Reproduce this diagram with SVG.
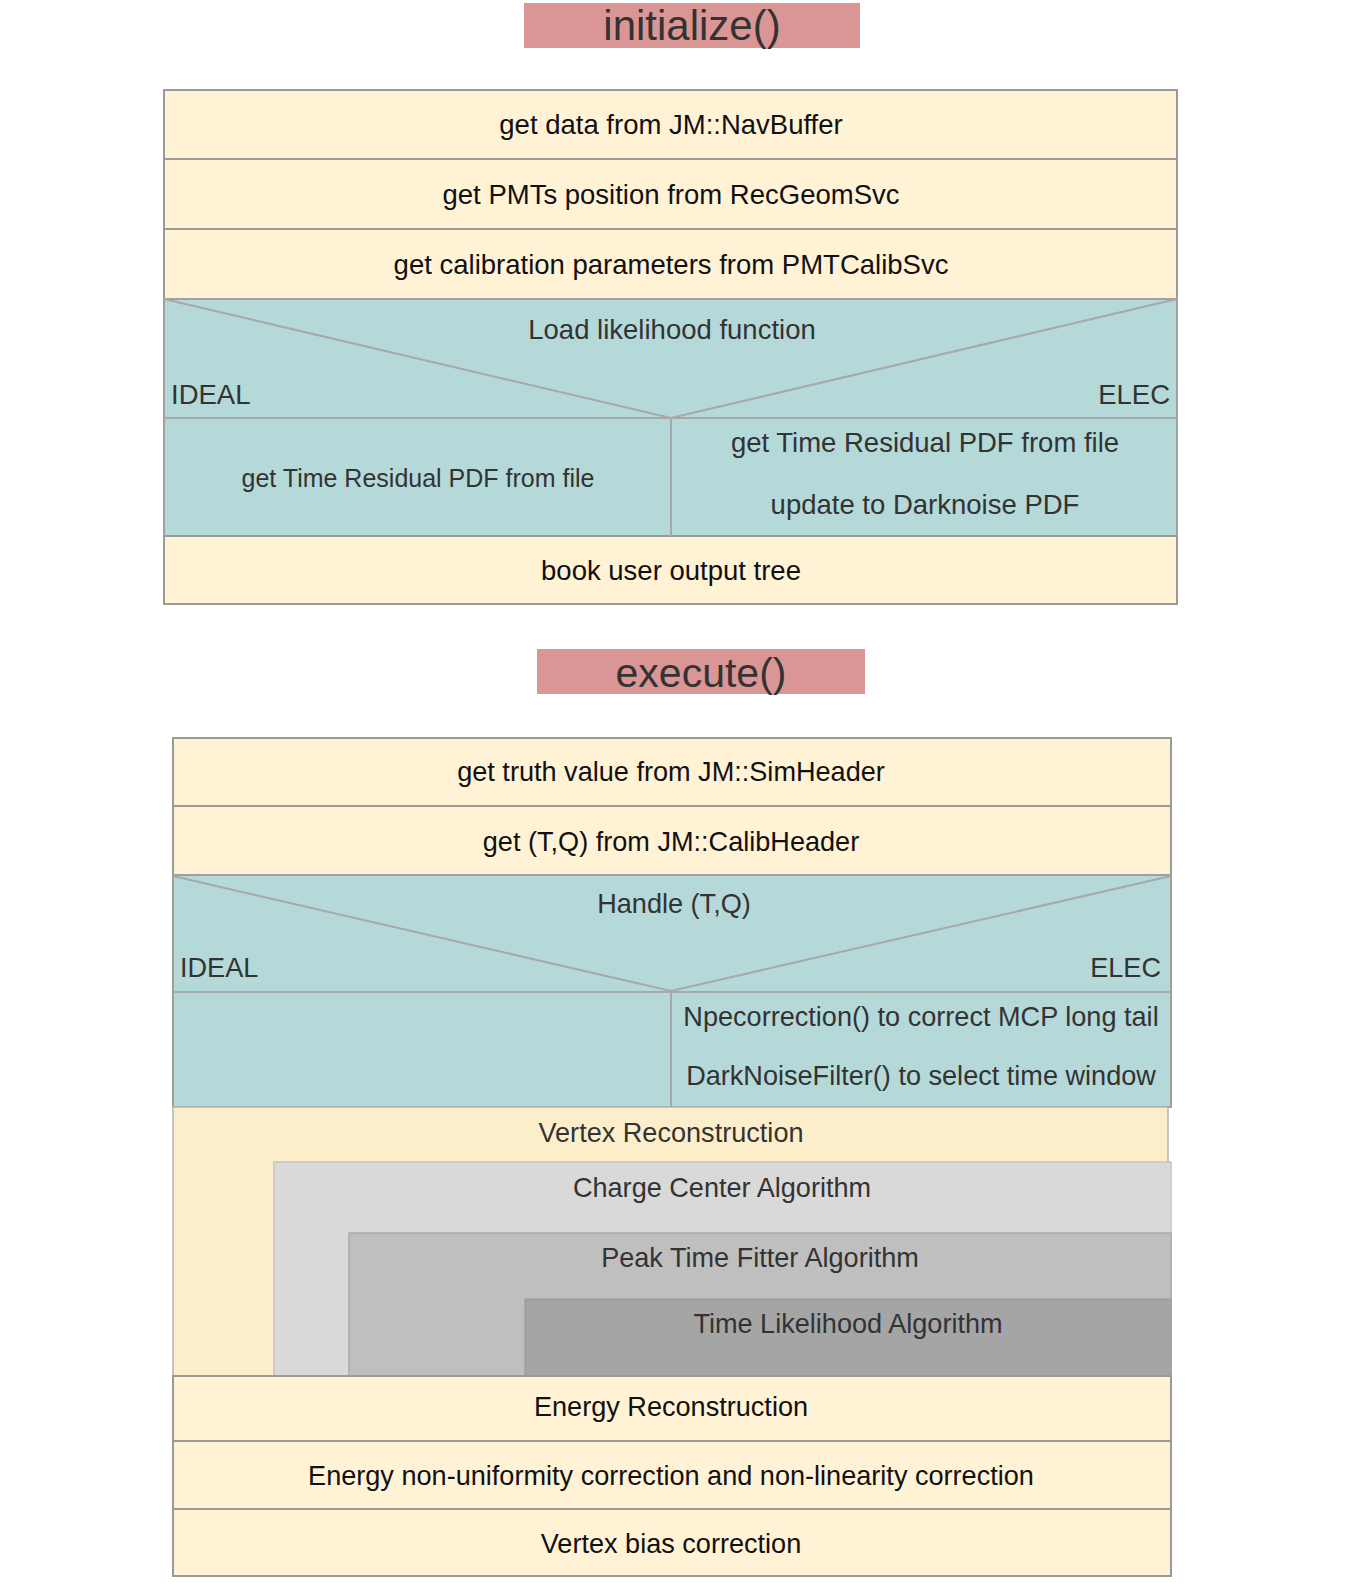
<svg xmlns="http://www.w3.org/2000/svg" width="1356" height="1586" viewBox="0 0 1356 1586">
<style>
text{font-family:"Liberation Sans",Arial,sans-serif;font-size:27.5px;text-anchor:middle;fill:#111}
.e text{font-size:27.1px}
.t{fill:#333}
.title{font-size:41px;fill:#333}
.y{fill:#fff2d5;stroke:#9a9a9a;stroke-width:2}
.v{fill:#fdeecb;stroke:#b5b5b5;stroke-width:1.5}
.c{fill:#b5d9d9;stroke:#a0a0a0;stroke-width:2}
.r{fill:#da9695}
.l{stroke:#a8a8a8;stroke-width:2;fill:none}
.g1{fill:#d9d9d9;stroke:#c4c4c4;stroke-width:1.5}
.g2{fill:#bfbfbf;stroke:#aaaaaa;stroke-width:1.5}
.g3{fill:#a5a5a5;stroke:#989898;stroke-width:1}
</style>
<rect width="1356" height="1586" fill="#fff"/>

<g id="init-title"><rect class="r" x="524" y="3" width="336" height="45"/><text class="title" x="692" y="40" style="font-size:42px">initialize()</text></g>
<g id="init-1"><rect class="y" x="164" y="90" width="1013" height="69"/><text x="671" y="134">get data from JM::NavBuffer</text></g>
<g id="init-2"><rect class="y" x="164" y="159" width="1013" height="70"/><text x="671" y="204">get PMTs position from RecGeomSvc</text></g>
<g id="init-3"><rect class="y" x="164" y="229" width="1013" height="70"/><text x="671" y="274">get calibration parameters from PMTCalibSvc</text></g>
<g id="init-load">
<rect class="c" x="164" y="299" width="1013" height="237"/>
<text class="t" x="672" y="339">Load likelihood function</text>
<text class="t" x="171" y="404" style="text-anchor:start">IDEAL</text>
<text class="t" x="1170" y="404" style="text-anchor:end">ELEC</text>
<text class="t" x="418" y="487" style="font-size:25px">get Time Residual PDF from file</text>
<text class="t" x="925" y="452">get Time Residual PDF from file</text>
<text class="t" x="925" y="514">update to Darknoise PDF</text>
</g>
<g id="init-book"><rect class="y" x="164" y="536" width="1013" height="68"/><text x="671" y="580">book user output tree</text></g>

<g id="exec-title"><rect class="r" x="537" y="649" width="328" height="45"/><text class="title" x="701" y="687">execute()</text></g>
<g id="exec-1" class="e"><rect class="y" x="173" y="738" width="998" height="68"/><text x="671" y="781">get truth value from JM::SimHeader</text></g>
<g id="exec-2" class="e"><rect class="y" x="173" y="806" width="998" height="69"/><text x="671" y="851">get (T,Q) from JM::CalibHeader</text></g>
<g id="exec-handle" class="e">
<rect class="c" x="173" y="875" width="998" height="232"/>
<text class="t" x="674" y="913">Handle (T,Q)</text>
<text class="t" x="180" y="977" style="text-anchor:start">IDEAL</text>
<text class="t" x="1161" y="977" style="text-anchor:end">ELEC</text>
<text class="t" x="921" y="1026">Npecorrection() to correct MCP long tail</text>
<text class="t" x="921" y="1085">DarkNoiseFilter() to select time window</text>
</g>
<g id="exec-vertex" class="e">
<rect class="v" x="173" y="1107" width="995" height="269"/>
<text class="t" x="671" y="1142">Vertex Reconstruction</text>
</g>
<g id="exec-charge" class="e"><rect class="g1" x="274" y="1162" width="897" height="214"/><text class="t" x="722" y="1197">Charge Center Algorithm</text></g>
<g id="exec-peak" class="e"><rect class="g2" x="349" y="1233" width="822" height="143"/><text class="t" x="760" y="1267">Peak Time Fitter Algorithm</text></g>
<g id="exec-tl" class="e"><rect class="g3" x="525" y="1299" width="646" height="77"/><text class="t" x="848" y="1333">Time Likelihood Algorithm</text></g>
<g id="exec-energy" class="e"><rect class="y" x="173" y="1376" width="998" height="65"/><text x="671" y="1416">Energy Reconstruction</text></g>
<g id="exec-nonuni" class="e"><rect class="y" x="173" y="1441" width="998" height="68"/><text x="671" y="1485">Energy non-uniformity correction and non-linearity correction</text></g>
<g id="exec-bias" class="e"><rect class="y" x="173" y="1509" width="998" height="67"/><text x="671" y="1553">Vertex bias correction</text></g>

<g id="connectors">
<polyline class="l" points="164,299 671,418 1177,299"/>
<line class="l" x1="164" y1="418" x2="1177" y2="418"/>
<line class="l" x1="671" y1="418" x2="671" y2="536"/>
<polyline class="l" points="173,876 671,991 1171,876"/>
<line class="l" x1="173" y1="992" x2="1171" y2="992"/>
<line class="l" x1="671" y1="992" x2="671" y2="1107"/>
</g>
</svg>
